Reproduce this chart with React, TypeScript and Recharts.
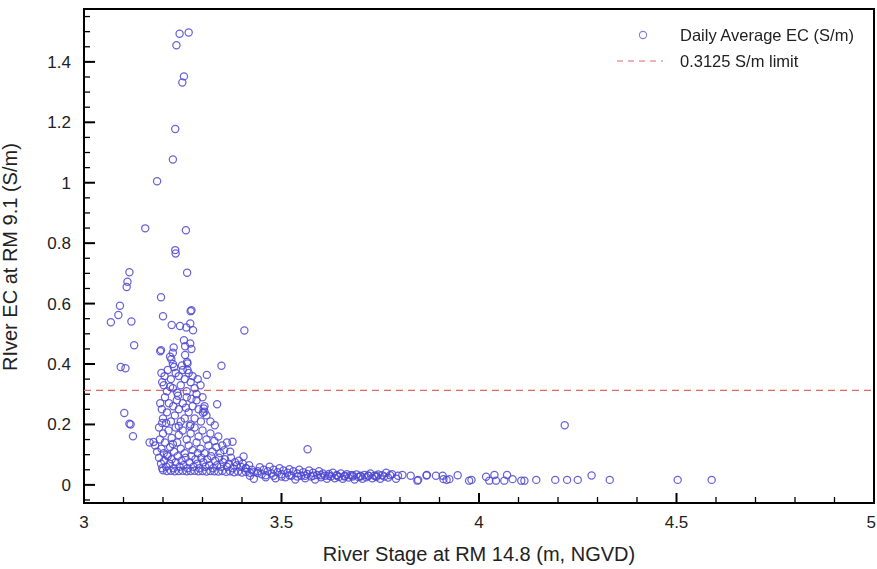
import React from 'react';
import { ScatterChart, Scatter, XAxis, YAxis, ReferenceLine, ReferenceArea } from 'recharts';

// River stage (m) vs daily average EC (S/m)
const peakPoints = [
  [3.242, 1.493], [3.265, 1.497], [3.234, 1.455], [3.253, 1.352], [3.249, 1.332],
  [3.231, 1.178], [3.225, 1.077], [3.258, 0.843], [3.231, 0.777], [3.232, 0.766],
  [3.261, 0.702], [3.195, 0.621], [3.2, 0.558], [3.27, 0.575], [3.272, 0.578],
  [3.222, 0.529], [3.243, 0.526], [3.259, 0.521], [3.269, 0.534], [3.276, 0.512],
  [3.406, 0.511],
];

const leftPoints = [
  [3.068, 0.538], [3.087, 0.562], [3.091, 0.593], [3.108, 0.655], [3.11, 0.672],
  [3.115, 0.704], [3.12, 0.541], [3.127, 0.462], [3.093, 0.39], [3.105, 0.386],
  [3.102, 0.238], [3.115, 0.202], [3.118, 0.2], [3.124, 0.161], [3.155, 0.849],
  [3.185, 1.005], [3.166, 0.14], [3.176, 0.142],
];

const clusterTop = [
  [3.193, 0.442], [3.195, 0.446], [3.227, 0.455], [3.225, 0.437], [3.218, 0.424],
  [3.225, 0.4], [3.253, 0.479], [3.256, 0.459], [3.269, 0.468], [3.272, 0.45],
  [3.256, 0.43], [3.261, 0.407], [3.262, 0.402], [3.221, 0.416], [3.348, 0.394],
  [3.311, 0.364], [3.337, 0.267], [3.331, 0.197], [3.303, 0.253], [3.305, 0.242],
  [3.376, 0.143], [3.404, 0.094], [3.566, 0.118], [3.301, 0.239],
  [3.196, 0.37], [3.198, 0.34], [3.204, 0.36], [3.212, 0.38], [3.22, 0.35],
  [3.225, 0.32], [3.232, 0.37], [3.24, 0.36], [3.245, 0.33], [3.25, 0.38],
  [3.255, 0.35], [3.26, 0.31], [3.265, 0.37], [3.27, 0.34], [3.275, 0.36],
  [3.28, 0.32], [3.288, 0.35], [3.295, 0.33], [3.21, 0.31], [3.236, 0.305],
  [3.202, 0.33], [3.228, 0.39], [3.248, 0.395], [3.262, 0.38], [3.285, 0.3],
  [3.3, 0.29], [3.218, 0.325],
];

const clusterMid = [
  [3.193, 0.27], [3.197, 0.25], [3.2, 0.22], [3.205, 0.29], [3.21, 0.24],
  [3.215, 0.27], [3.22, 0.21], [3.226, 0.26], [3.23, 0.23], [3.235, 0.28],
  [3.24, 0.25], [3.245, 0.21], [3.25, 0.27], [3.255, 0.22], [3.26, 0.29],
  [3.265, 0.24], [3.27, 0.2], [3.275, 0.26], [3.28, 0.22], [3.285, 0.28],
  [3.29, 0.25], [3.296, 0.21], [3.305, 0.26], [3.31, 0.23], [3.32, 0.21],
  [3.208, 0.205], [3.238, 0.295], [3.258, 0.255], [3.198, 0.205], [3.272, 0.285],
  [3.18, 0.13], [3.185, 0.11], [3.19, 0.19], [3.192, 0.15], [3.196, 0.12],
  [3.2, 0.17], [3.205, 0.14], [3.21, 0.1], [3.214, 0.18], [3.218, 0.125],
  [3.222, 0.155], [3.228, 0.11], [3.232, 0.19], [3.236, 0.14], [3.24, 0.165],
  [3.245, 0.12], [3.25, 0.18], [3.255, 0.105], [3.26, 0.15], [3.265, 0.13],
  [3.27, 0.17], [3.275, 0.115], [3.28, 0.19], [3.285, 0.14], [3.29, 0.16],
  [3.295, 0.12], [3.3, 0.18], [3.305, 0.105], [3.31, 0.15], [3.315, 0.13],
  [3.32, 0.17], [3.325, 0.11], [3.33, 0.145], [3.335, 0.125], [3.34, 0.16],
  [3.345, 0.105], [3.35, 0.13], [3.355, 0.115], [3.362, 0.14], [3.37, 0.11],
  [3.24, 0.195], [3.268, 0.195], [3.225, 0.135], [3.288, 0.105], [3.202, 0.105],
];

const clusterLow = [
  [3.19, 0.09], [3.195, 0.07], [3.198, 0.055], [3.203, 0.08], [3.208, 0.06],
  [3.212, 0.095], [3.217, 0.07], [3.222, 0.085], [3.227, 0.055], [3.232, 0.075],
  [3.237, 0.095], [3.242, 0.06], [3.247, 0.08], [3.252, 0.065], [3.257, 0.09],
  [3.262, 0.055], [3.267, 0.075], [3.272, 0.095], [3.277, 0.06], [3.282, 0.085],
  [3.287, 0.07], [3.292, 0.055], [3.297, 0.09], [3.302, 0.075], [3.307, 0.06],
  [3.312, 0.085], [3.317, 0.065], [3.322, 0.095], [3.327, 0.055], [3.332, 0.08],
  [3.337, 0.065], [3.342, 0.09], [3.347, 0.06], [3.352, 0.075], [3.357, 0.085],
  [3.362, 0.06], [3.367, 0.07], [3.372, 0.09], [3.377, 0.055], [3.382, 0.075],
  [3.387, 0.065], [3.392, 0.08], [3.397, 0.06], [3.402, 0.07], [3.41, 0.055],
  [3.418, 0.065],
  [3.2, 0.048], [3.21, 0.046], [3.22, 0.047], [3.23, 0.045], [3.24, 0.046],
  [3.25, 0.047], [3.26, 0.045], [3.27, 0.046], [3.28, 0.047], [3.29, 0.045],
  [3.3, 0.046], [3.31, 0.044], [3.32, 0.046], [3.33, 0.045], [3.34, 0.044],
  [3.35, 0.046], [3.36, 0.043], [3.37, 0.045], [3.38, 0.042], [3.39, 0.044],
  [3.4, 0.041], [3.41, 0.043], [3.42, 0.04], [3.43, 0.042], [3.44, 0.039],
];

const tailPoints = [
  [3.41, 0.055], [3.42, 0.03], [3.425, 0.05], [3.43, 0.02], [3.44, 0.045],
  [3.445, 0.058], [3.45, 0.035], [3.455, 0.05], [3.46, 0.025], [3.465, 0.045],
  [3.47, 0.06], [3.475, 0.038], [3.48, 0.05], [3.485, 0.022], [3.49, 0.042],
  [3.495, 0.055], [3.5, 0.035], [3.505, 0.048], [3.51, 0.025], [3.515, 0.04],
  [3.52, 0.052], [3.525, 0.03], [3.53, 0.045], [3.535, 0.018], [3.54, 0.038],
  [3.545, 0.05], [3.55, 0.03], [3.555, 0.042], [3.56, 0.022], [3.565, 0.036],
  [3.57, 0.048], [3.575, 0.028], [3.58, 0.04], [3.585, 0.018], [3.59, 0.033],
  [3.595, 0.045], [3.6, 0.025], [3.605, 0.038], [3.61, 0.03], [3.615, 0.02],
  [3.62, 0.036], [3.625, 0.028], [3.63, 0.04], [3.635, 0.022], [3.64, 0.033],
  [3.645, 0.026], [3.65, 0.038], [3.655, 0.02], [3.66, 0.03], [3.665, 0.035],
  [3.67, 0.024], [3.675, 0.032], [3.68, 0.028], [3.685, 0.018], [3.69, 0.034],
  [3.695, 0.026], [3.7, 0.03], [3.705, 0.02], [3.71, 0.033], [3.715, 0.025],
  [3.72, 0.03], [3.725, 0.038], [3.73, 0.022], [3.735, 0.03], [3.74, 0.026],
  [3.745, 0.034], [3.75, 0.02], [3.755, 0.032], [3.76, 0.028], [3.765, 0.04],
  [3.77, 0.024], [3.775, 0.032], [3.78, 0.035], [3.79, 0.02], [3.795, 0.03],
  [3.46, 0.032], [3.48, 0.03], [3.5, 0.028], [3.52, 0.032], [3.54, 0.028],
  [3.56, 0.03], [3.58, 0.03], [3.6, 0.032], [3.62, 0.03], [3.64, 0.03],
  [3.66, 0.028], [3.68, 0.032], [3.7, 0.028], [3.72, 0.03], [3.74, 0.03],
];

const farTail = [
  [3.806, 0.033], [3.827, 0.03], [3.844, 0.014], [3.846, 0.0165], [3.867, 0.031],
  [3.868, 0.033], [3.891, 0.03], [3.908, 0.03], [3.91, 0.019], [3.918, 0.0165],
  [3.925, 0.019], [3.946, 0.032], [3.975, 0.014], [3.981, 0.0165], [4.018, 0.027],
  [4.026, 0.014], [4.039, 0.033], [4.043, 0.014], [4.064, 0.014], [4.071, 0.033],
  [4.085, 0.019], [4.107, 0.014], [4.115, 0.014], [4.145, 0.0165], [4.193, 0.0165],
  [4.217, 0.197], [4.223, 0.0165], [4.25, 0.0165], [4.285, 0.031], [4.331, 0.0165],
  [4.503, 0.0165], [4.589, 0.0165],
];

const xTicks = [3, 3.1, 3.2, 3.3, 3.4, 3.5, 3.6, 3.7, 3.8, 3.9, 4, 4.1, 4.2, 4.3, 4.4, 4.5, 4.6, 4.7, 4.8, 4.9, 5];
const xLabels = [3, 3.5, 4, 4.5, 5];
const yTicks = [-0.05, 0, 0.05, 0.1, 0.15, 0.2, 0.25, 0.3, 0.35, 0.4, 0.45, 0.5, 0.55, 0.6, 0.65, 0.7, 0.75, 0.8, 0.85, 0.9, 0.95, 1, 1.05, 1.1, 1.15, 1.2, 1.25, 1.3, 1.35, 1.4, 1.45, 1.5, 1.55];
const yLabels = [0, 0.2, 0.4, 0.6, 0.8, 1, 1.2, 1.4];
const ecLimit = 0.3125;

const data = [...peakPoints, ...leftPoints, ...clusterTop, ...clusterMid, ...clusterLow, ...tailPoints, ...farTail]
  .map(([stage, ec]) => ({ stage, ec }));

const FONT = '"Liberation Sans", Arial, Helvetica, sans-serif';
const MARKER = '#4f48d2';
const LIMIT = '#e06868';

const isLabel = (v: number, labels: number[]) => labels.some((l) => Math.abs(l - v) < 1e-6);

// ticks point inward, labels sit outside
const XTick = (props: any) => {
  const { x, y, payload } = props;
  const major = isLabel(payload.value, xLabels);
  const last = payload.value === 5;
  return (
    <g>
      <line x1={x} x2={x} y1={y} y2={y - (major ? 10 : 6)} stroke="#000" strokeWidth={major ? 2 : 1.3} />
      {major && (
        <text x={last ? x + 2 : x} y={y + 25} textAnchor={last ? 'end' : 'middle'} fontSize={17} fontFamily={FONT} fill="#222">
          {payload.value}
        </text>
      )}
    </g>
  );
};

const YTick = (props: any) => {
  const { x, y, payload } = props;
  const major = isLabel(payload.value, yLabels);
  return (
    <g>
      <line x1={x} x2={x + (major ? 11 : 6)} y1={y} y2={y} stroke="#000" strokeWidth={major ? 2 : 1.3} />
      {major && (
        <text x={x - 13} y={y + 6} textAnchor="end" fontSize={17} fontFamily={FONT} fill="#222">
          {payload.value}
        </text>
      )}
    </g>
  );
};

const Marker = (props: any) => (
  <circle cx={props.cx} cy={props.cy} r={3.6} fill="none" stroke={MARKER} strokeWidth={1.25} strokeOpacity={0.85} />
);

const LegendBox = () => (
  <svg width={270} height={60} style={{ position: 'absolute', left: 612, top: 22, overflow: 'visible' }}>
    <circle cx={31} cy={13} r={3.6} fill="none" stroke={MARKER} strokeWidth={1.1} strokeOpacity={0.7} />
    <text x={68} y={19} fontSize={16.5} fontFamily={FONT} fill="#222">Daily Average EC (S/m)</text>
    <line x1={5} x2={51} y1={39} y2={39} stroke={LIMIT} strokeWidth={1.2} strokeDasharray="6 5" />
    <text x={68} y={45} fontSize={16.5} fontFamily={FONT} fill="#222">0.3125 S/m limit</text>
  </svg>
);

export default function App() {
  return (
    <div style={{ position: 'fixed', left: 0, top: 0, width: 877, height: 569, background: '#fff' }}>
      <ScatterChart width={877} height={569} margin={{ top: 9, right: 3, left: 0, bottom: 0 }}>
        <XAxis
          type="number"
          dataKey="stage"
          domain={[3, 5]}
          ticks={xTicks}
          interval={0}
          allowDataOverflow
          height={66}
          tickSize={0}
          tickMargin={0}
          axisLine={false}
          tick={<XTick />}
          label={{ value: 'River Stage at RM 14.8 (m, NGVD)', position: 'insideBottom', offset: 8, fontSize: 20, fontFamily: FONT, fill: '#222' }}
        />
        <YAxis
          type="number"
          dataKey="ec"
          domain={[-0.06, 1.575]}
          ticks={yTicks}
          interval={0}
          allowDataOverflow
          width={84}
          tickSize={0}
          tickMargin={0}
          axisLine={false}
          tick={<YTick />}
          label={{ value: 'RIver EC at RM 9.1 (S/m)', angle: -90, position: 'insideLeft', offset: 10, dy: 115, fontSize: 20, fontFamily: FONT, fill: '#222' }}
        />
        <ReferenceLine y={ecLimit} stroke={LIMIT} strokeWidth={1.2} strokeDasharray="7 5" />
        <Scatter name="Daily Average EC (S/m)" data={data} shape={<Marker />} isAnimationActive={false} />
        <ReferenceArea x1={3} x2={5} y1={-0.06} y2={1.575} fill="none" fillOpacity={0} stroke="#000" strokeWidth={2} ifOverflow="visible" />
      </ScatterChart>
      <LegendBox />
    </div>
  );
}
